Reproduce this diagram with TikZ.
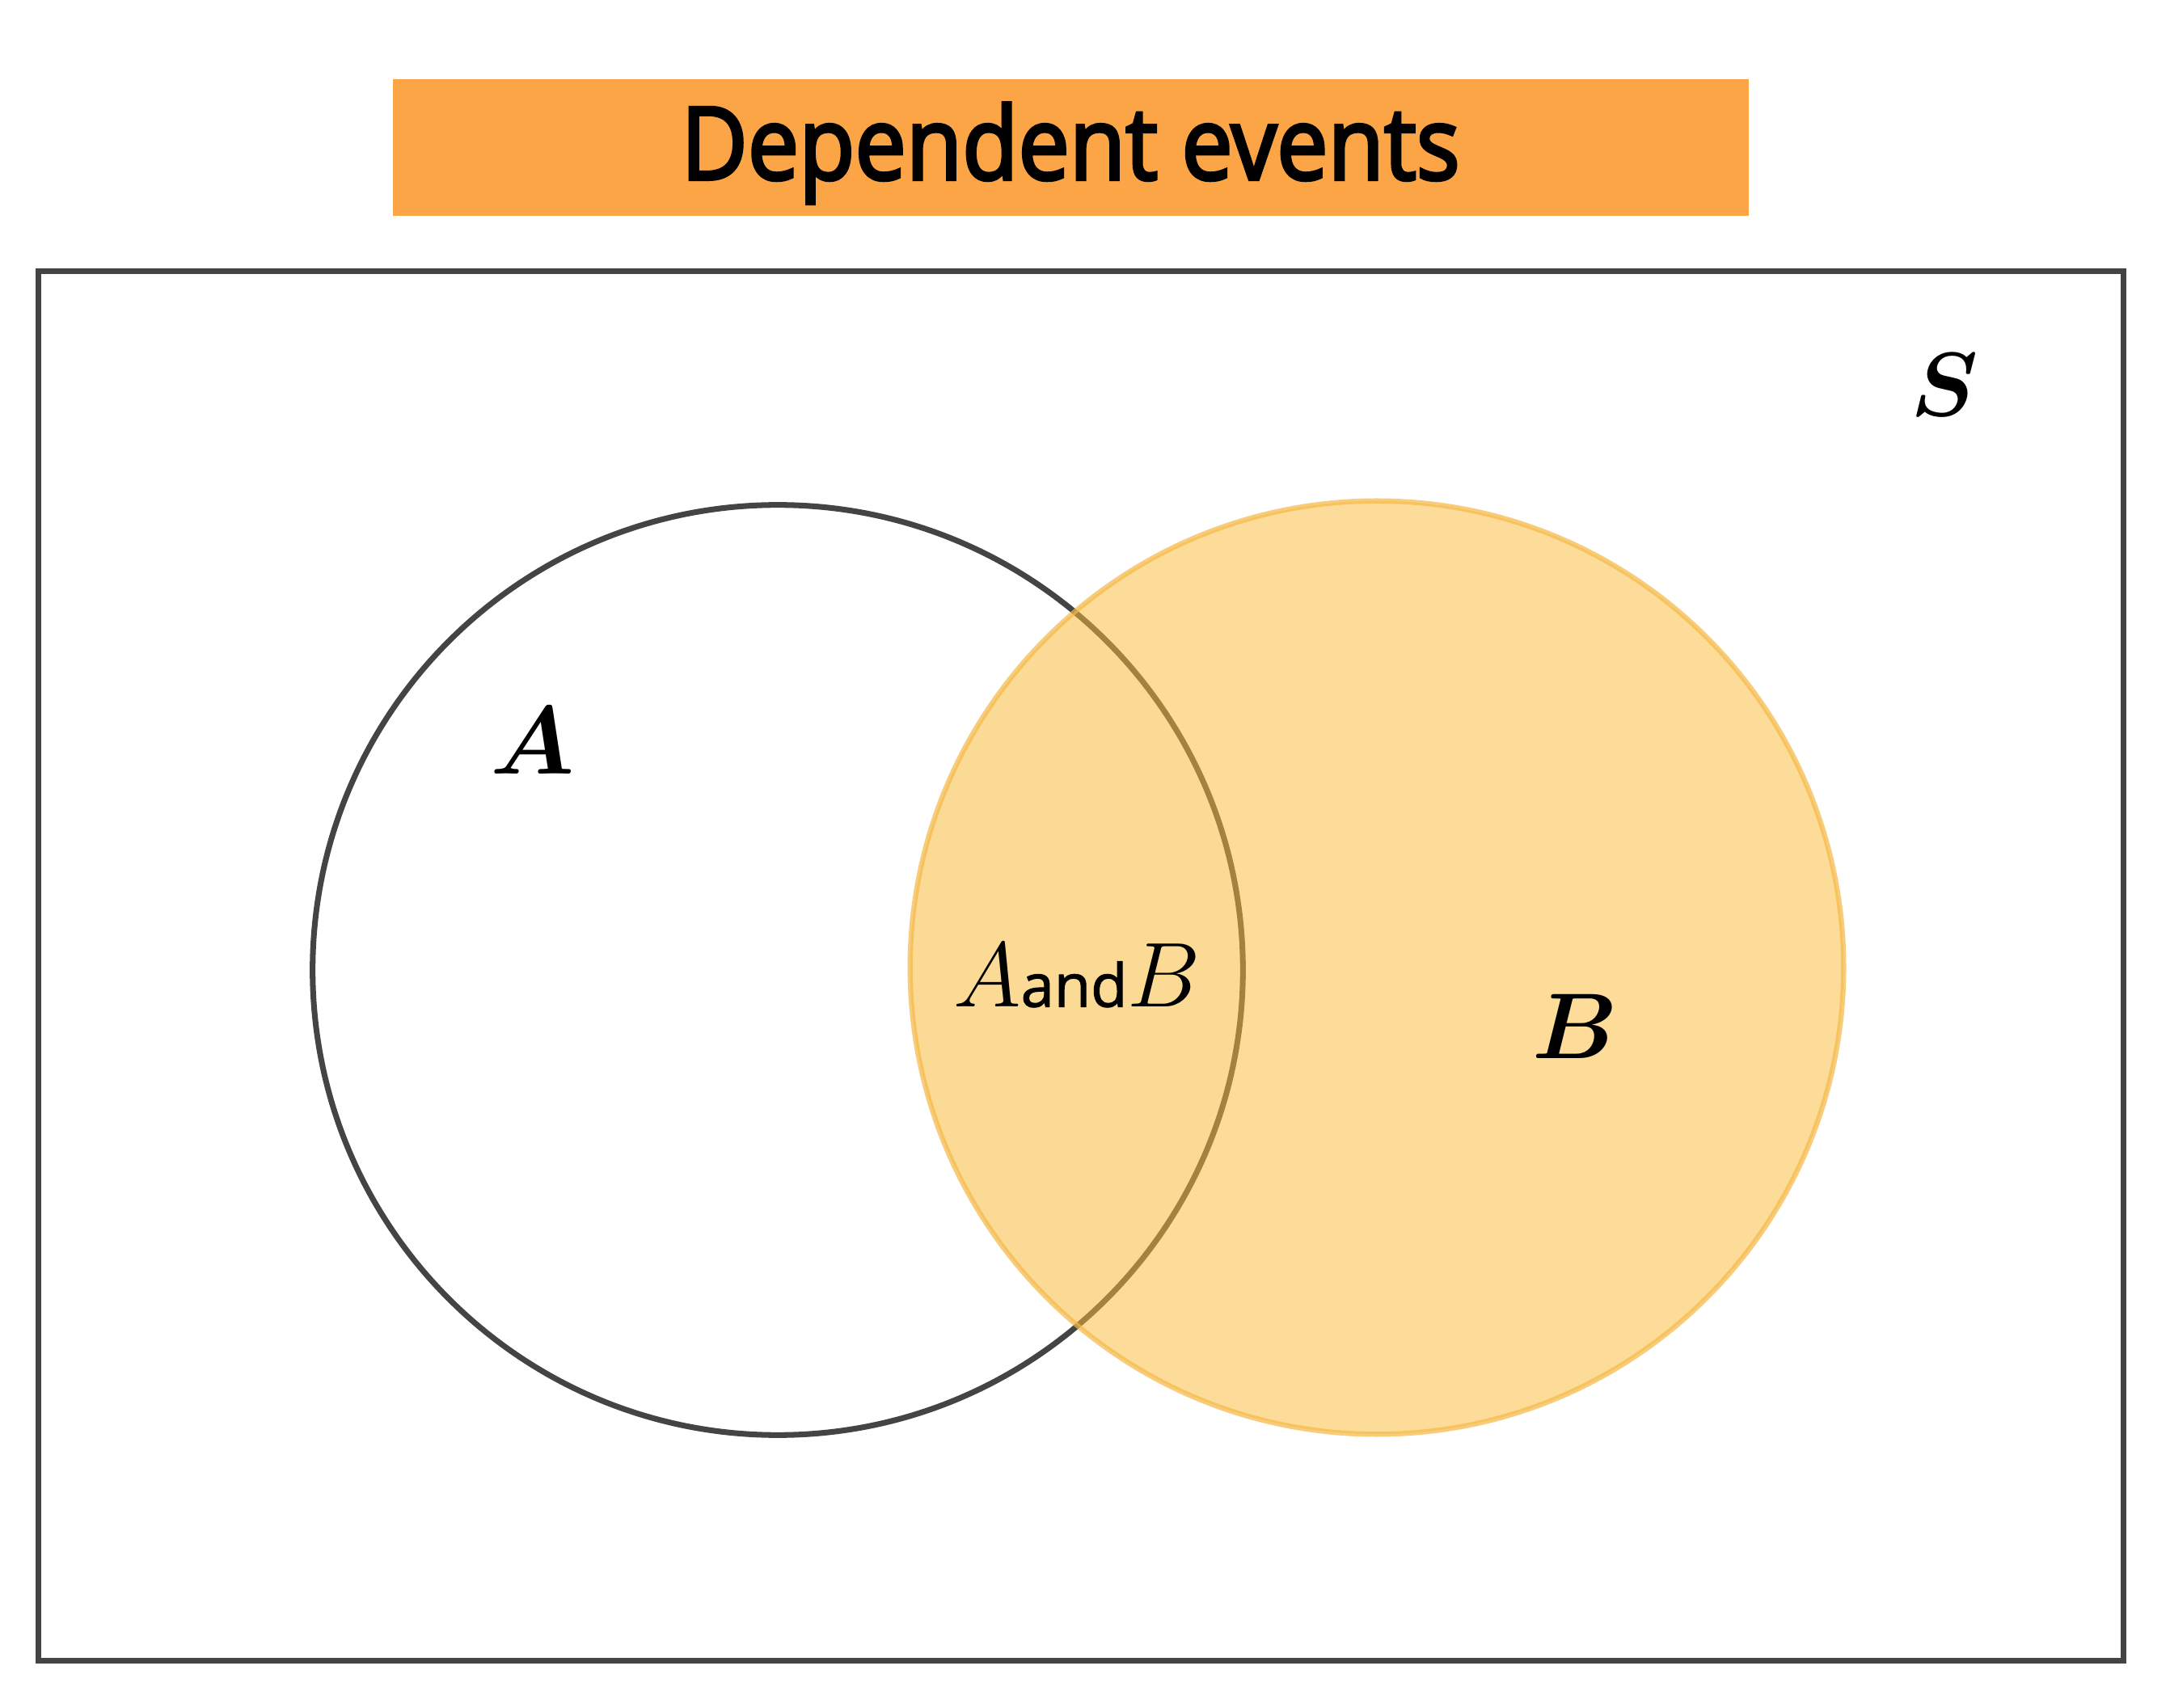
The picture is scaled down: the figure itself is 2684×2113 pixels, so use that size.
\documentclass[tikz,border=0pt]{standalone}
\usepackage{amsmath}
\usepackage{bm}
\usepackage{fontspec}
\newfontfamily\titlefont[RawFeature={embolden=3.3}]{Open Sans}
\newfontfamily\andfont[RawFeature={embolden=1.5}]{Open Sans}
\usetikzlibrary{positioning}
\definecolor{titleorange}{RGB}{252,165,70}
\definecolor{bfill}{RGB}{251,189,58}
\definecolor{bborder}{RGB}{245,185,70}
\definecolor{lineGray}{RGB}{68,68,68}
\tikzset{
  titlebox/.style={fill=titleorange, minimum width=16.76cm, minimum height=1.69cm, inner sep=0pt},
  titletxt/.style={inner sep=0pt, anchor=base, font=\titlefont\fontsize{35.5}{40}\selectfont},
  frame/.style={draw=lineGray, line width=2pt, minimum width=25.78cm, minimum height=17.18cm, inner sep=0pt},
  setA/.style={circle, draw=lineGray, line width=2pt, minimum size=11.5cm, inner sep=0pt},
  setB/.style={circle, fill=bfill, fill opacity=0.52, draw=bborder, draw opacity=0.7, line width=1.8pt, minimum size=11.54cm, inner sep=0pt},
  lbl/.style={inner sep=0pt, font=\fontsize{24.88}{30}\selectfont},
}
\begin{document}
\begin{tikzpicture}[x=0.01cm,y=-0.01cm]
\useasboundingbox (0,0) rectangle (2684,2113);
\fill[white] (0,0) rectangle (2684,2113);
\node[titlebox] (title) at (1324,182.5) {};
\node[titletxt] (titletext) at (1324,222) {\scalebox{0.905}[1]{Dependent events}};
\node[frame] (S) at (1337,1195) {};
\node[setA] (ca) at (962,1200) {};
\begin{scope}
\clip (1703,1197) circle [radius=5.77cm];
\fill[black, opacity=0.015] (962,1200) circle [radius=5.75cm];
\end{scope}
\node[setB] (cb) at (1703,1197) {};
\node[lbl] (labS) at (2405,476) {\scalebox{1.28}{$\bm{S}$}};
\node[lbl] (labA) at (659,916) {\scalebox{1.37}{$\bm{A}$}};
\node[lbl] (labB) at (1948,1270) {\scalebox{1.32}{$\bm{B}$}};
\node[lbl] (labAB) at (1332,1207) {\scalebox{1.3}{$A$}{\andfont\fontsize{21}{25}\selectfont and}\scalebox{1.3}{$B$}};
\end{tikzpicture}
\end{document}
